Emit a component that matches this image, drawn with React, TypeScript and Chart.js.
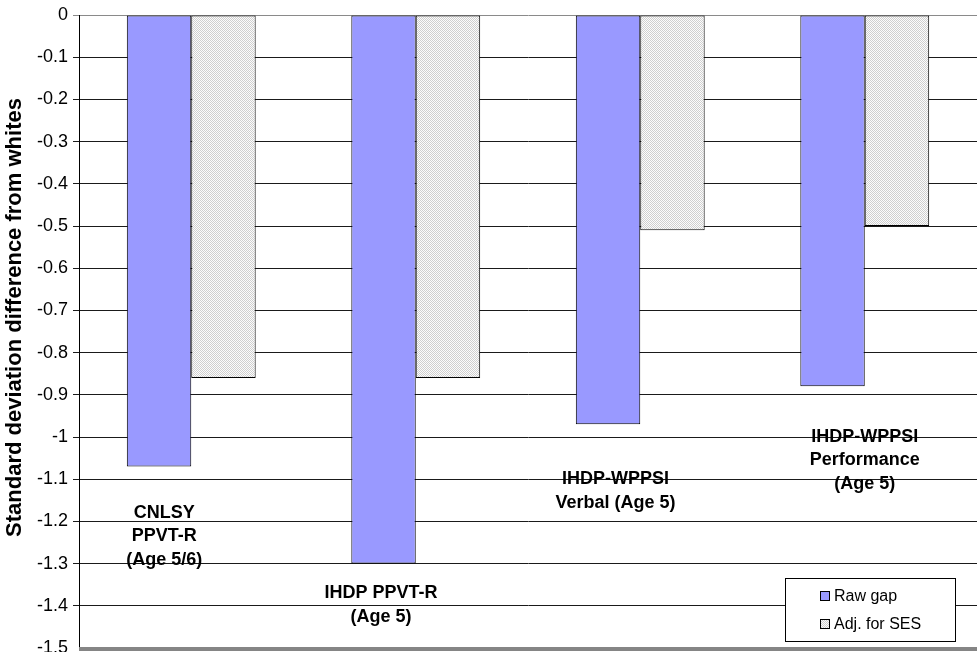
import { useEffect, useRef } from "react";
import { Chart, registerables } from "chart.js";

Chart.register(...registerables);

// Test groups (multi-line names drawn inside the plot)
const categories: string[][] = [
  ["CNLSY", "PPVT-R", "(Age 5/6)"],
  ["IHDP PPVT-R", "(Age 5)"],
  ["IHDP-WPPSI", "Verbal (Age 5)"],
  ["IHDP-WPPSI", "Performance", "(Age 5)"],
];

// Standard-deviation gap from whites
const rawGap = [-1.07, -1.3, -0.97, -0.88];
const adjForSes = [-0.86, -0.86, -0.51, -0.5];

// Where each group name sits: category position and value of its first line
const labelAtCategory = [-0.12, 0.845, 1.89, 3.0];
const labelAtValue = [-1.18, -1.37, -1.1, -1.0];

const seriesNames = ["Raw gap", "Adj. for SES"];
const yMin = -1.5;
const yMax = 0;
const yStep = 0.1;

const FONT = "'Liberation Sans', Arial, Helvetica, sans-serif";
const BLUE = "#9999FF";

function makeDither(): CanvasPattern | string {
  const c = document.createElement("canvas");
  c.width = 2;
  c.height = 2;
  const g = c.getContext("2d");
  if (!g) return "#e6e6e6";
  g.fillStyle = "#fcfcfc";
  g.fillRect(0, 0, 2, 2);
  g.fillStyle = "#cfcfcf";
  g.fillRect(0, 0, 1, 1);
  g.fillRect(1, 1, 1, 1);
  const p = g.createPattern(c, "repeat");
  return p || "#e6e6e6";
}

export default function App() {
  const ref = useRef<HTMLCanvasElement | null>(null);

  useEffect(() => {
    if (!ref.current) return;
    const dither = makeDither();

    const overlay = {
      id: "overlay",
      afterDraw(chart: any) {
        const { ctx, chartArea, scales } = chart;
        const x = scales.x;
        const y = scales.y;
        ctx.save();

        // bottom frame line
        ctx.strokeStyle = "#858585";
        ctx.lineWidth = 4;
        ctx.beginPath();
        ctx.moveTo(chartArea.left, chartArea.bottom + 1);
        ctx.lineTo(chartArea.right, chartArea.bottom + 1);
        ctx.stroke();

        // group names
        ctx.fillStyle = "#000";
        ctx.font = `bold 18px ${FONT}`;
        ctx.textAlign = "center";
        ctx.textBaseline = "middle";
        categories.forEach((lines, i) => {
          const cx = x.getPixelForValue(labelAtCategory[i]);
          const cy = y.getPixelForValue(labelAtValue[i]);
          lines.forEach((t, k) => ctx.fillText(t, cx, cy + k * 23.5));
        });

        // axis title
        ctx.save();
        ctx.translate(15, (chartArea.top + chartArea.bottom) / 2 - 14);
        ctx.rotate(-Math.PI / 2);
        ctx.font = `bold 22px ${FONT}`;
        ctx.textAlign = "center";
        ctx.textBaseline = "middle";
        ctx.fillText("Standard deviation difference from whites", 0, 0);
        ctx.restore();

        // legend box
        const bx = chartArea.right - 192;
        const by = chartArea.bottom - 70;
        const bw = 170;
        const bh = 63;
        ctx.fillStyle = "#fff";
        ctx.fillRect(bx, by, bw, bh);
        ctx.strokeStyle = "#000";
        ctx.lineWidth = 1;
        ctx.strokeRect(bx + 0.5, by + 0.5, bw, bh);
        const fills = [BLUE, dither];
        ctx.font = `16px ${FONT}`;
        ctx.textAlign = "left";
        ctx.textBaseline = "middle";
        seriesNames.forEach((name, i) => {
          const sy = by + 13 + i * 28;
          ctx.fillStyle = fills[i] as any;
          ctx.fillRect(bx + 35, sy, 10, 10);
          ctx.strokeStyle = "#000";
          ctx.strokeRect(bx + 35.5, sy + 0.5, 9, 9);
          ctx.fillStyle = "#000";
          ctx.fillText(name, bx + 49, sy + 5.5);
        });
        ctx.restore();
      },
    };

    const chart = new Chart(ref.current, {
      type: "bar",
      data: {
        labels: categories.map((l) => l.join(" ")),
        datasets: [
          {
            label: seriesNames[0],
            data: rawGap,
            backgroundColor: BLUE,
            borderColor: "#000",
            borderWidth: 1,
            borderSkipped: false,
          },
          {
            label: seriesNames[1],
            data: adjForSes,
            backgroundColor: dither as any,
            borderColor: "#000",
            borderWidth: 1,
            borderSkipped: false,
          },
        ],
      },
      options: {
        animation: false,
        responsive: false,
        maintainAspectRatio: false,
        layout: { padding: { top: 15, bottom: 4, left: 0, right: 0 } },
        datasets: {
          bar: { categoryPercentage: 0.574, barPercentage: 1 },
        },
        plugins: {
          legend: { display: false },
          tooltip: { enabled: false },
          title: { display: false },
        },
        scales: {
          x: {
            display: false,
            offset: true,
            grid: { display: false },
          },
          y: {
            min: yMin,
            max: yMax,
            afterFit: (s: any) => {
              s.width = 79;
              s.paddingTop = 0;
              s.paddingBottom = 0;
            },
            ticks: {
              stepSize: yStep,
              padding: 5,
              color: "#000",
              font: { family: FONT, size: 18 },
              callback: (v: any) => String(Number(Number(v).toFixed(1))),
            },
            grid: {
              color: (c: any) =>
                c.tick && Math.abs(c.tick.value) < 1e-9
                  ? "#8a8a8a"
                  : c.tick && Math.abs(c.tick.value - yMin) < 1e-9
                  ? "rgba(0,0,0,0)"
                  : "#1a1a1a",
              lineWidth: 1,
              tickLength: 6,
              drawTicks: true,
            },
            border: { display: true, color: "#000", width: 1 },
          },
        },
      },
      plugins: [overlay],
    });

    return () => chart.destroy();
  }, []);

  return (
    <div style={{ position: "absolute", left: 0, top: 0, width: 977, height: 652, background: "#fff" }}>
      <canvas ref={ref} width={977} height={652} style={{ display: "block" }} />
    </div>
  );
}
